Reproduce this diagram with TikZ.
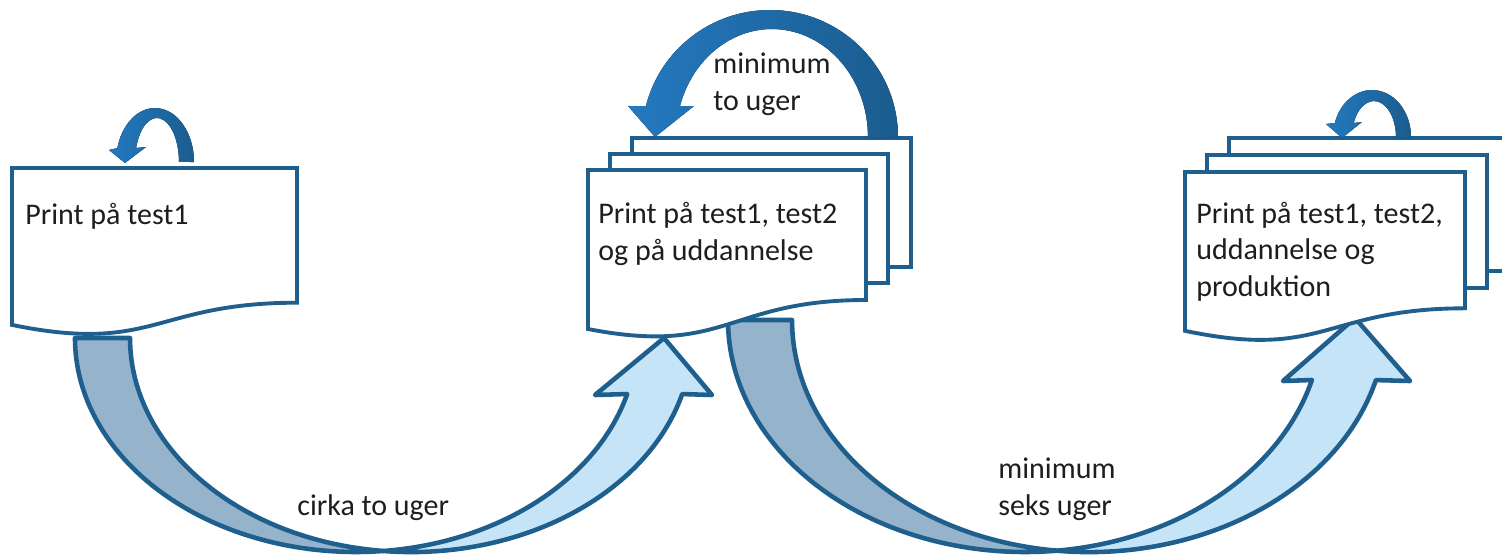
\documentclass[tikz,border=0pt]{standalone}
\usepackage{fontspec}
\setmainfont{Carlito}
\definecolor{edge}{HTML}{1F5F8E}
\definecolor{backfill}{HTML}{95B4CB}
\definecolor{frontfill}{HTML}{C6E4F8}
\definecolor{loopL}{HTML}{2479C0}
\definecolor{loopR}{HTML}{1A5C8E}
\definecolor{ink}{HTML}{1E1E1E}
\begin{document}
\begin{tikzpicture}[x=0.02cm,y=0.02cm,
  page/.style={draw=edge, line width=2.2pt, fill=white, line join=miter},
  band/.style={draw=edge, line width=2.6pt, line join=round},
  backband/.style={band, fill=backfill},
  frontband/.style={band, fill=frontfill},
  looparrow/.style={left color=loopL, right color=loopR, draw=none},
  lbl/.style={font=\fontsize{17.07}{20.5}\selectfont, text=ink, inner sep=0pt, align=left, anchor=base west}]
\clip (0,0) rectangle (1502,-556);
\fill[white] (0,0) rectangle (1502,-556);

% ---- bottom arrow A (test1 -> test2)
\draw[backband] (75,-338) arc[start angle=180, end angle=275.62, x radius=281, y radius=214]
  arc[start angle=264.38, end angle=180, x radius=281, y radius=214] -- cycle;
\draw[frontband] (383.5,-551) arc[start angle=264.38, end angle=344.83, x radius=281, y radius=214]
  -- (712,-395) -- (664,-338) -- (595,-395) -- (627.2,-394)
  arc[start angle=344.83, end angle=275.62, x radius=281, y radius=214] -- cycle;

% ---- bottom arrow B (test2 -> produktion)
\draw[backband] (728,-320) arc[start angle=180, end angle=276.19, x radius=297, y radius=232]
  arc[start angle=263.81, end angle=180, x radius=297, y radius=232] -- cycle;
\draw[frontband] (1057,-550.7) arc[start angle=263.81, end angle=345.01, x radius=297, y radius=232]
  -- (1410,-381) -- (1355,-318) -- (1283,-381) -- (1311.9,-380)
  arc[start angle=345.01, end angle=276.19, x radius=297, y radius=232] -- cycle;

% ---- document 1
\draw[page] (12,-168) coordinate (d1) -- (297,-168) -- (297,-302.7)
  .. controls (154.5,-302.7) and (154.5,-354.1) .. (12,-324.9) -- cycle;

% ---- document stack 2
\draw[page] (632,-138) rectangle (911,-267);
\draw[page] (610,-154) rectangle (888,-283);
\draw[page] (588,-170) coordinate (d2) -- (866,-170) -- (866,-300)
  .. controls (727,-300) and (727,-356) .. (588,-329) -- cycle;

% ---- document stack 3
\draw[page] (1229,-138) rectangle (1510,-271);
\draw[page] (1207,-155) rectangle (1487,-288);
\draw[page] (1185,-172) coordinate (d3) -- (1465,-172) -- (1465,-308.3)
  .. controls (1325,-308.3) and (1325,-360.3) .. (1185,-330.8) -- cycle;

% ---- loop arrows
\fill[looparrow] (194,-162) arc[start angle=0, end angle=165, x radius=39, y radius=54]
  -- (109,-150) -- (125,-163) -- (146,-147) -- (136.1,-148)
  arc[start angle=161.5, end angle=0, x radius=22, y radius=44] -- cycle;
\fill[looparrow] (898,-137) arc[start angle=0, end angle=165.9, x radius=128, y radius=127]
  -- (628,-106) -- (655,-137) -- (694,-106) -- (680,-106)
  arc[start angle=163.3, end angle=0, x radius=96, y radius=108] -- cycle;
\fill[looparrow] (1411,-137) arc[start angle=0, end angle=162.67, x radius=39, y radius=47]
  -- (1326,-124) -- (1342,-138) -- (1362,-122) -- (1353.7,-123)
  arc[start angle=157.1, end angle=0, x radius=22, y radius=36] -- cycle;

% ---- texts (base anchor of a multi-line node = baseline of its last line)
\node[lbl] (t1) at (25,-224) {Print på test1};
\node[lbl] (t2) at (598,-260) {Print på test1, test2\\og på uddannelse};
\node[lbl] (t3) at (1196,-296) {Print på test1, test2,\\uddannelse og\\produktion};
\node[lbl] (l1) at (713,-110) {minimum\\to uger};
\node[lbl] (l2) at (297,-515) {cirka to uger};
\node[lbl] (l3) at (998,-515) {minimum\\seks uger};
\end{tikzpicture}
\end{document}
